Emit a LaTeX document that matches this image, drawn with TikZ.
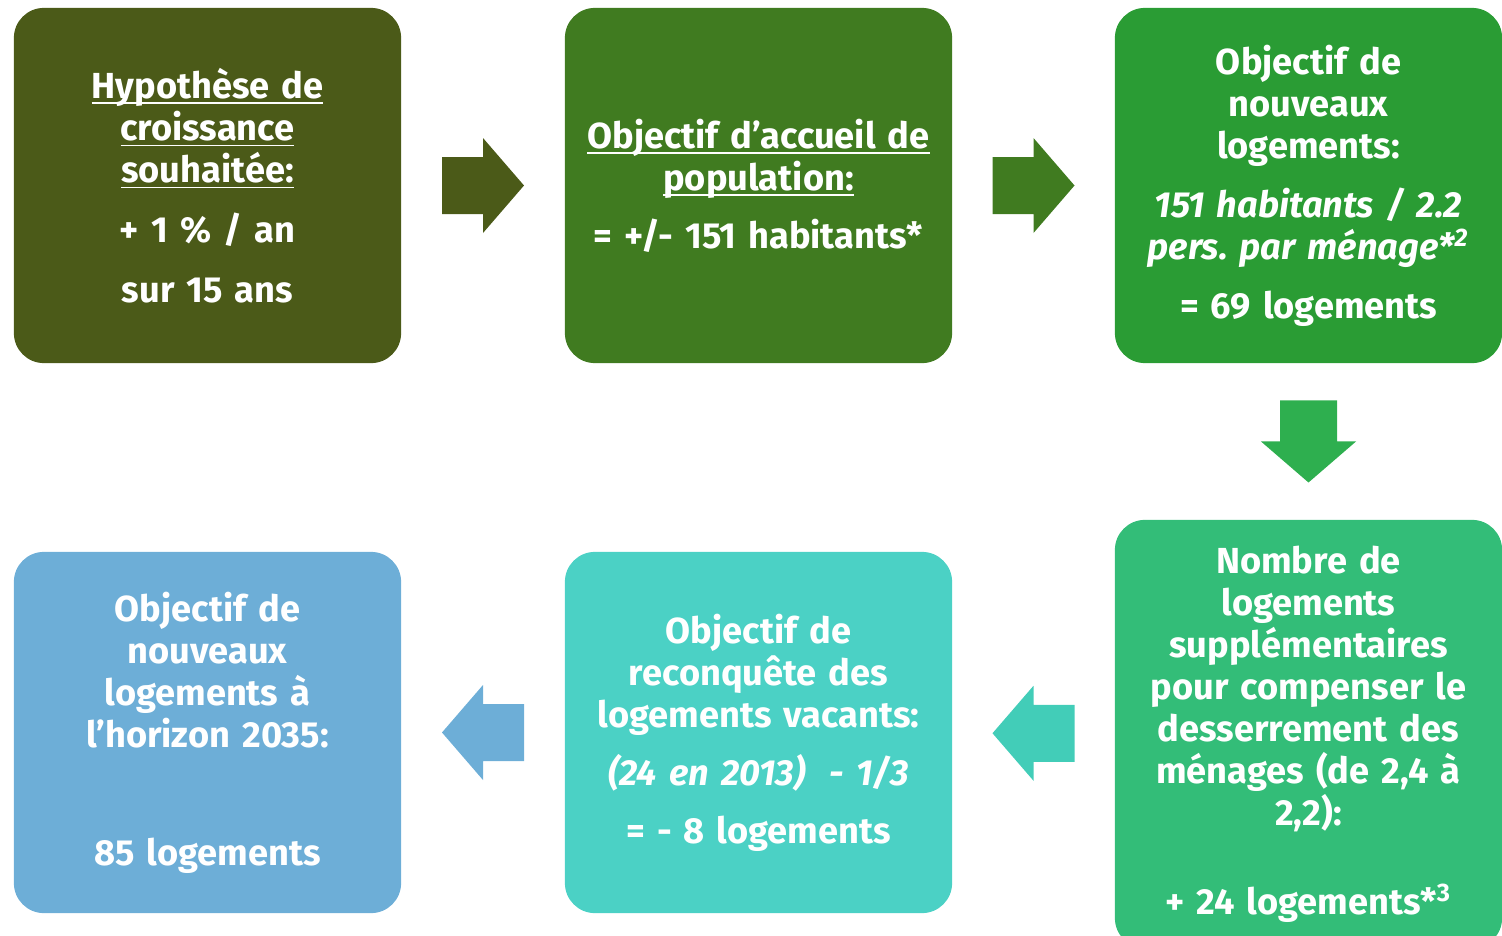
\documentclass[tikz,border=0pt]{standalone}
\usepackage{fontspec}
\setmainfont{Fira Sans}
\usetikzlibrary{calc}

\definecolor{olivebox}{HTML}{4B5A18}
\definecolor{greenbox}{HTML}{407B20}
\definecolor{brightbox}{HTML}{2A9C34}
\definecolor{downarrow}{HTML}{2EAF4F}
\definecolor{mintbox}{HTML}{33BD78}
\definecolor{tealarrow}{HTML}{42CDB8}
\definecolor{tealbox}{HTML}{4BD1C5}
\definecolor{bluebox}{HTML}{6DAED7}

\frenchspacing
\newcommand{\ulin}[1]{\underline{\raisebox{0pt}[\height][0pt]{#1}}}
\newcommand{\boxfont}{\bfseries\fontsize{10.3}{11.95}\selectfont
  \spaceskip=0.17em plus 0.05em\relax}

\tikzset{
  box/.style={rounded corners=0.3cm, minimum width=3.87cm, minimum height=3.55cm,
    inner sep=0pt, text width=3.8cm, align=center, text=white, font=\boxfont},
  flecha/.pic={\path[pic actions] (-41,-28.5) -- (0,-28.5) -- (0,-47.5) -- (41,0)
    -- (0,47.5) -- (0,28.5) -- (-41,28.5) -- cycle;},
}

\begin{document}
\begin{tikzpicture}[x=0.01cm, y=-0.01cm]
    \useasboundingbox (0,0) rectangle (1502,936);
    % top row
    \node[box, fill=olivebox] (b1) at (207.5,185.5)
        {\ulin{Hypothèse de}\\ \ulin{croissance}\\ \ulin{souhaitée:}\\[0.18cm]
         + 1 \% / an\\[0.18cm] sur 15 ans};
    \node[box, fill=greenbox] (b2) at (758.5,185.5)
        {\ulin{Objectif d’accueil de}\\ \ulin{population:}\\[0.16cm]
         = +/- 151 habitants*};
    \node[box, fill=brightbox] (b3) at (1308.5,185.5)
        {Objectif de\\ nouveaux\\ logements:\\[0.17cm]
         \textit{151 habitants / 2.2}\\ \textit{pers. par ménage*\textsuperscript{2}}\\[0.17cm]
         = 69 logements};
    % bottom row
    \node[box, fill=mintbox, minimum height=4.28cm] (b4) at (1308.5,734)
        {Nombre de\\ logements\\ supplémentaires\\ pour compenser le\\ desserrement des\\
         ménages (de 2,4 à\\ 2,2):\\[0.47cm] + 24 logements*\textsuperscript{3}};
    \node[box, fill=tealbox, minimum height=3.61cm] (b5) at (758.5,732.5)
        {Objectif de\\ reconquête des\\ logements vacants:\\[0.16cm]
         \textit{(24 en 2013)~~- 1/3}\\[0.16cm] = - 8 logements};
    \node[box, fill=bluebox, minimum height=3.61cm] (b6) at (207.5,732.5)
        {Objectif de\\ nouveaux\\ logements à\\ l’horizon 2035:\\[0.76cm] 85 logements};
    % block arrows between the boxes
    \pic[fill=olivebox] at ($(b1.east)!0.5!(b2.west)$) {flecha};
    \pic[fill=greenbox] at ($(b2.east)!0.5!(b3.west)$) {flecha};
    \pic[fill=downarrow, rotate=-90] at ($(b3.south)!0.5!(b4.north)$) {flecha};
    \pic[fill=tealarrow, rotate=180] at ($(b4.west)!0.5!(b5.east)$) {flecha};
    \pic[fill=bluebox, rotate=180] at ($(b5.west)!0.5!(b6.east)$) {flecha};
\end{tikzpicture}
\end{document}
